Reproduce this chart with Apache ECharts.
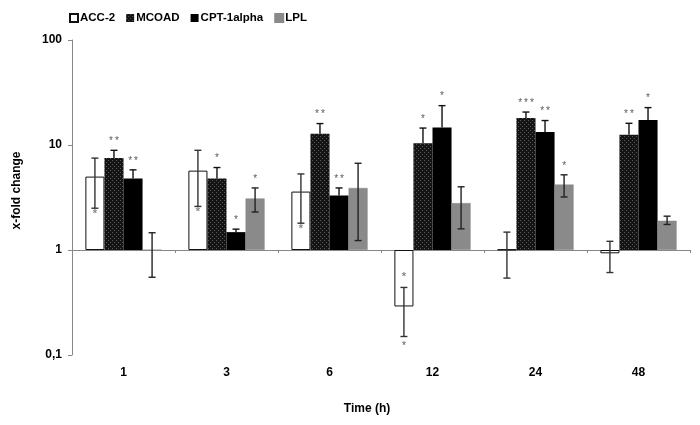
<!DOCTYPE html>
<html>
<head>
<meta charset="utf-8">
<script src="https://cdn.jsdelivr.net/npm/echarts@6/dist/echarts.min.js"></script>
<style>
html,body{margin:0;padding:0;background:#fff;}
#chart{width:700px;height:425px;}
</style>
</head>
<body>
<div id="chart"></div>
<script>
// ---- data ----
const categories = ['1', '3', '6', '12', '24', '48'];
const seriesNames = ['ACC-2', 'MCOAD', 'CPT-1alpha', 'LPL'];
const yTicks = [0.1, 1, 10, 100];

const acc2   = [5.0, 5.7, 3.6, 0.29, 1.01, 0.93];
const acc2Hi = [7.5, 8.9, 5.3, 0.44, 1.48, 1.21];
const acc2Lo = [2.5, 2.6, 1.8, 0.15, 0.54, 0.61];
const acc2Sig   = ['', '', '', '*', '', ''];
const acc2Inner = ['*', '*', '*', '*', '', ''];

const mcoad   = [7.5, 4.8, 12.8, 10.4, 18.1, 12.5];
const mcoadHi = [8.9, 6.1, 16.0, 14.5, 20.6, 16.1];
const mcoadSig = ['**', '*', '**', '*', '***', '**'];

const cpt   = [4.8, 1.48, 3.3, 14.7, 13.3, 17.3];
const cptHi = [5.8, 1.58, 3.9, 23.7, 17.1, 22.7];
const cptSig = ['**', '*', '**', '*', '**', '*'];

const lpl   = [1.0, 3.1, 3.9, 2.8, 4.2, 1.9];
const lplHi = [1.46, 3.9, 6.7, 4.0, 5.2, 2.1];
const lplLo = [0.55, 2.3, 1.23, 1.59, 3.2, 1.75];
const lplSig = ['', '*', '', '', '*', ''];

// ---- styling ----
const GAP = 0.26;
const FONT = 'Liberation Sans, Arial, sans-serif';

function makePattern() {
  const c = document.createElement('canvas');
  c.width = 4; c.height = 4;
  const g = c.getContext('2d');
  g.fillStyle = '#141414';
  g.fillRect(0, 0, 4, 4);
  g.fillStyle = '#5a5a5a';
  g.fillRect(0, 0, 1, 1);
  g.fillRect(2, 2, 1, 1);
  return c;
}
const pattern = { image: makePattern(), repeat: 'repeat' };

function starText(s) { return s.split('').join('\u2009'); }

function errSeries(k, vals, lo, hi, sig, inner, lineColor) {
  return {
    type: 'custom',
    xAxisIndex: 0, yAxisIndex: 0, z: 10, silent: true,
    data: categories.map((c, i) => [i, vals[i], lo ? lo[i] : vals[i], hi[i]]),
    renderItem: function (params, api) {
      const i = api.value(0);
      const idx = params.dataIndex;
      const band = api.coord([1, 1])[0] - api.coord([0, 1])[0];
      const w = band * (1 - GAP) / 4;
      const cx = api.coord([i, 1])[0] - band * (1 - GAP) / 2 + w * (k + 0.5);
      const v = api.value(1);
      const yLo = api.coord([i, api.value(2)])[1];
      const yHi = api.coord([i, api.value(3)])[1];
      const cap = 3.5;
      const st = { stroke: lineColor, lineWidth: 1.4 };
      const ch = [
        { type: 'line', shape: { x1: cx, y1: yLo, x2: cx, y2: yHi }, style: st },
        { type: 'line', shape: { x1: cx - cap, y1: yHi, x2: cx + cap, y2: yHi }, style: st }
      ];
      if (lo) ch.push({ type: 'line', shape: { x1: cx - cap, y1: yLo, x2: cx + cap, y2: yLo }, style: st });
      const s = sig[idx];
      if (s) {
        if (v >= 1) {
          ch.push({ type: 'text', style: { text: starText(s), x: cx, y: yHi - 9, align: 'center', verticalAlign: 'middle', fill: '#5a5a5a', font: '10px ' + FONT } });
        } else {
          ch.push({ type: 'text', style: { text: starText(s), x: cx, y: yLo + 10, align: 'center', verticalAlign: 'middle', fill: '#5a5a5a', font: '10px ' + FONT } });
        }
      }
      if (inner && inner[idx]) {
        const yy = v >= 1 ? yLo + 6 : yHi - 10;
        ch.push({ type: 'text', style: { text: inner[idx], x: cx, y: yy, align: 'center', verticalAlign: 'middle', fill: '#888', font: 'bold 11px ' + FONT } });
      }
      return { type: 'group', children: ch };
    }
  };
}

const chart = echarts.init(document.getElementById('chart'), null, { renderer: 'canvas' });

const barBase = { type: 'bar', xAxisIndex: 0, yAxisIndex: 0, barGap: '0%', barCategoryGap: (GAP * 100) + '%' };

const option = {
  animation: false,
  backgroundColor: '#fff',
  textStyle: { fontFamily: FONT },
  legend: {
    data: seriesNames,
    left: 64, top: 7,
    icon: 'rect', itemWidth: 8, itemHeight: 8, itemGap: 11,
    textStyle: { fontFamily: FONT, fontWeight: 'bold', fontSize: 11.5, color: '#000', padding: [0, 0, 0, -3] }
  },
  grid: { left: 72, right: 10, top: 40, bottom: 70, containLabel: false },
  xAxis: [
    {
      type: 'category', data: categories, position: 'bottom', offset: -105,
      boundaryGap: true,
      axisLine: { show: true, onZero: false, lineStyle: { color: '#888', width: 1 } },
      axisTick: { show: true, length: 3, inside: false, lineStyle: { color: '#888' } },
      axisLabel: { show: false }
    },
    {
      type: 'category', data: categories, position: 'bottom', gridIndex: 0,
      axisLine: { show: false }, axisTick: { show: false },
      axisLabel: { show: true, margin: 12, fontWeight: 'bold', fontSize: 12, color: '#000', fontFamily: FONT },
      name: 'Time (h)', nameLocation: 'middle', nameGap: 48,
      nameTextStyle: { fontWeight: 'bold', fontSize: 12, color: '#000', fontFamily: FONT, padding: [0, 28, 0, 0] }
    }
  ],
  yAxis: {
    type: 'log', logBase: 10, min: yTicks[0], max: yTicks[yTicks.length - 1],
    axisLine: { show: true, lineStyle: { color: '#888' } },
    axisTick: { show: true, length: 4, lineStyle: { color: '#888' } },
    splitLine: { show: false },
    minorTick: { show: false },
    axisLabel: {
      margin: 10, fontWeight: 'bold', fontSize: 12, color: '#000', fontFamily: FONT,
      formatter: function (val) { return String(+val.toPrecision(3)).replace('.', ','); }
    },
    name: 'x-fold change', nameLocation: 'middle', nameGap: 49, nameRotate: 90,
    nameTextStyle: { fontWeight: 'bold', fontSize: 12, color: '#000', fontFamily: FONT, padding: [0, 0, 0, 14] }
  },
  series: [
    Object.assign({}, barBase, { name: seriesNames[0], data: acc2, itemStyle: { color: '#fff', borderColor: '#111', borderWidth: 1 } }),
    Object.assign({}, barBase, { name: seriesNames[1], data: mcoad, itemStyle: { color: pattern } }),
    Object.assign({}, barBase, { name: seriesNames[2], data: cpt, itemStyle: { color: '#000' } }),
    Object.assign({}, barBase, { name: seriesNames[3], data: lpl, itemStyle: { color: '#8a8a8a', borderColor: '#8a8a8a', borderWidth: 0.5 } }),
    errSeries(0, acc2, acc2Lo, acc2Hi, acc2Sig, acc2Inner, '#333'),
    errSeries(1, mcoad, null, mcoadHi, mcoadSig, null, '#111'),
    errSeries(2, cpt, null, cptHi, cptSig, null, '#111'),
    errSeries(3, lpl, lplLo, lplHi, lplSig, null, '#222')
  ]
};
chart.setOption(option);
</script>
</body>
</html>
